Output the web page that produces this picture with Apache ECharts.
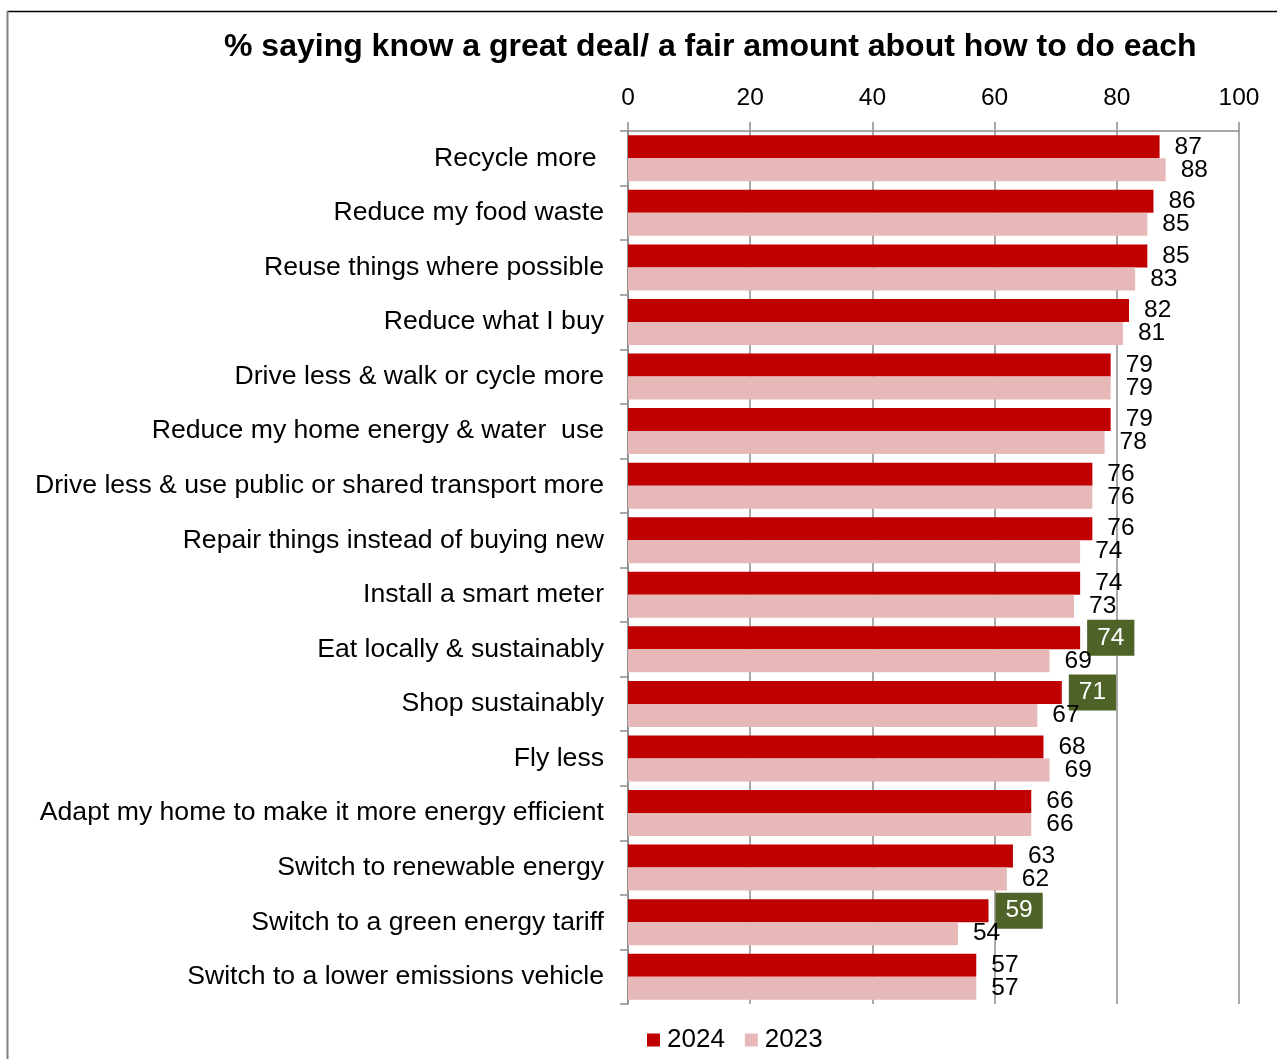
<!DOCTYPE html>
<html>
<head>
<meta charset="utf-8">
<script src="https://cdn.jsdelivr.net/npm/echarts@6/dist/echarts.min.js"></script>
<style>
  html, body { margin: 0; padding: 0; background: #ffffff; }
  #chart { width: 1277px; height: 1059px; }
</style>
</head>
<body>
<div id="chart"></div>
<script>
// Actions, listed top to bottom
const categories = [
  'Recycle more ',
  'Reduce my food waste',
  'Reuse things where possible',
  'Reduce what I buy',
  'Drive less & walk or cycle more',
  'Reduce my home energy & water  use',
  'Drive less & use public or shared transport more',
  'Repair things instead of buying new',
  'Install a smart meter',
  'Eat locally & sustainably',
  'Shop sustainably',
  'Fly less',
  'Adapt my home to make it more energy efficient',
  'Switch to renewable energy',
  'Switch to a green energy tariff',
  'Switch to a lower emissions vehicle'
];

const values2024 = [87, 86, 85, 82, 79, 79, 76, 76, 74, 74, 71, 68, 66, 63, 59, 57];
const values2023 = [88, 85, 83, 81, 79, 78, 76, 74, 73, 69, 67, 69, 66, 62, 54, 57];

// 2024 values flagged as a notable rise on 2023
const highlighted2024 = [
  'Eat locally & sustainably',
  'Shop sustainably',
  'Switch to a green energy tariff'
];

const xTicks = [0, 20, 40, 60, 80, 100];

const FONT = '"Liberation Sans", Arial, sans-serif';
const RED = '#C00000';
const PINK = '#E6B9B8';
const GREEN = '#4F6228';
const AXIS_GREY = '#8C8C8C';

const plainLabel = {
  show: true,
  position: 'right',
  distance: 15,
  color: '#000000',
  fontFamily: FONT,
  fontSize: 24.5
};

const data2024 = values2024.map((v, i) => {
  if (highlighted2024.includes(categories[i])) {
    return {
      value: v,
      label: {
        show: true,
        position: 'right',
        distance: 7,
        color: '#ffffff',
        backgroundColor: GREEN,
        padding: [6, 10, 5, 10],
        fontFamily: FONT,
        fontSize: 24.5
      }
    };
  }
  return v;
});

const chart = echarts.init(document.getElementById('chart'), null, { renderer: 'canvas' });

chart.setOption({
  backgroundColor: '#ffffff',
  animation: false,
  title: {
    text: '% saying know a great deal/ a fair amount about how to do each',
    left: 219,
    top: 26,
    textStyle: {
      fontFamily: FONT,
      fontSize: 32,
      fontWeight: 'bold',
      color: '#000000'
    }
  },
  legend: {
    left: 642,
    top: 1022,
    icon: 'rect',
    itemWidth: 13,
    itemHeight: 13,
    itemGap: 20,
    textStyle: { fontFamily: FONT, fontSize: 26, color: '#000000', padding: [0, 0, 0, 2] },
    data: ['2024', '2023']
  },
  grid: {
    left: 628,
    right: 38,
    top: 131,
    bottom: 55,
    containLabel: false
  },
  xAxis: {
    type: 'value',
    position: 'top',
    min: xTicks[0],
    max: xTicks[xTicks.length - 1],
    interval: 20,
    axisLine: { show: true, lineStyle: { color: AXIS_GREY, width: 1.5 } },
    axisTick: { show: true, length: 9, lineStyle: { color: AXIS_GREY, width: 1.5 } },
    splitLine: { show: true, lineStyle: { color: AXIS_GREY, width: 1.5 } },
    axisLabel: {
      margin: 20,
      color: '#000000',
      fontFamily: FONT,
      fontSize: 24.5,
      formatter: v => (xTicks.includes(v) ? String(v) : '')
    }
  },
  yAxis: {
    type: 'category',
    inverse: true,
    data: categories,
    axisLine: { show: true, lineStyle: { color: AXIS_GREY, width: 1.5 } },
    axisTick: { show: true, length: 8, lineStyle: { color: AXIS_GREY, width: 1.5 } },
    axisLabel: {
      margin: 24,
      color: '#000000',
      fontFamily: FONT,
      fontSize: 26.6
    }
  },
  series: [
    {
      name: '2024',
      type: 'bar',
      data: data2024,
      barWidth: 23,
      barGap: '0%',
      itemStyle: { color: RED },
      label: plainLabel
    },
    {
      name: '2023',
      type: 'bar',
      data: values2023,
      barWidth: 23,
      barGap: '0%',
      itemStyle: { color: PINK },
      label: plainLabel
    }
  ],
  graphic: [
    {
      type: 'line',
      shape: { x1: 7, y1: 11.5, x2: 1277, y2: 11.5 },
      style: { stroke: '#000000', lineWidth: 1.5 }
    },
    {
      type: 'line',
      shape: { x1: 7.5, y1: 11, x2: 7.5, y2: 1059 },
      style: { stroke: '#808080', lineWidth: 2 }
    }
  ]
});
</script>
</body>
</html>
